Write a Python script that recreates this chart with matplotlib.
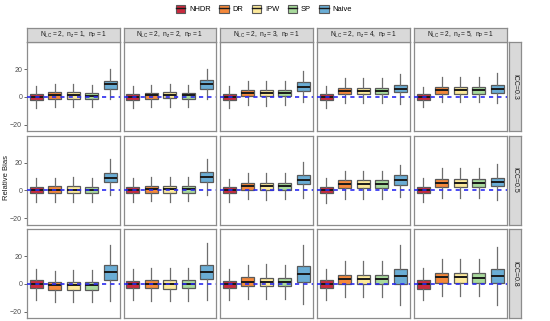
import matplotlib
matplotlib.use("Agg")
import matplotlib.pyplot as plt
from matplotlib.patches import Patch
from matplotlib.lines import Line2D

plt.rcParams['font.family'] = ['Liberation Sans', 'DejaVu Sans']

# categories / facets
methods = ["NHDR", "DR", "IPW", "SP", "Naive"]
colors = ["#C92A3E", "#F4883B", "#FCE99B", "#A8DA9C", "#6AADD5"]
nz_values = [1, 2, 3, 4, 5]
icc_values = ["0.3", "0.5", "0.8"]

# box statistics: [row ICC][col n_z][method]
q1 = [
    [[-2.2, -1.4, -1.4, -1.4, 6.0], [-2.2, -1.2, -1.0, -1.2, 6.0], [-2.2, 0.5, 0.5, 0.7, 4.6],
     [-2.2, 1.9, 1.9, 1.9, 3.4], [-2.2, 2.4, 2.4, 2.4, 2.9]],
    [[-2.2, -2.0, -2.0, -2.0, 6.1], [-2.2, -1.5, -1.5, -1.5, 6.0], [-2.2, 0.5, 0.5, 0.5, 4.4],
     [-2.2, 1.7, 1.7, 1.7, 4.1], [-2.0, 2.2, 2.2, 2.2, 2.9]],
    [[-3.1, -4.3, -4.3, -4.3, 2.9], [-3.1, -3.1, -3.4, -3.1, 3.4], [-3.1, -1.2, -1.4, -1.4, 1.5],
     [-3.1, 0.0, 0.0, 0.0, 0.0], [-3.4, 1.0, 1.0, 1.0, 0.5]],
]
med = [
    [[0.0, 1.2, 1.2, 1.0, 9.4], [0.0, 1.4, 1.4, 1.2, 9.2], [0.0, 3.1, 3.1, 3.1, 7.5],
     [0.0, 4.3, 4.3, 4.3, 6.0], [0.0, 5.0, 5.0, 5.0, 5.8]],
    [[0.0, 0.2, 0.2, 0.2, 9.3], [0.0, 1.0, 1.0, 0.8, 9.4], [0.0, 2.9, 2.9, 3.1, 7.8],
     [0.0, 4.6, 4.6, 4.6, 7.6], [0.2, 5.4, 5.4, 5.4, 6.3]],
    [[0.2, -0.7, -1.0, -0.7, 8.7], [-0.2, -0.2, -0.2, -0.2, 8.9], [0.0, 1.7, 1.7, 1.7, 7.5],
     [0.0, 3.6, 3.4, 3.4, 5.8], [0.0, 4.8, 4.8, 4.6, 6.0]],
]
q3 = [
    [[2.4, 3.4, 3.4, 3.2, 11.8], [2.2, 3.1, 3.4, 3.1, 12.0], [2.2, 5.1, 5.1, 5.1, 10.6],
     [2.2, 6.7, 6.7, 6.7, 8.9], [1.9, 7.5, 7.5, 7.5, 8.7]],
    [[2.4, 2.9, 2.9, 2.7, 12.7], [2.2, 3.2, 3.2, 3.2, 13.0], [2.2, 5.4, 5.6, 5.6, 11.2],
     [2.7, 7.3, 7.3, 7.3, 11.2], [2.4, 8.3, 8.3, 8.3, 9.3]],
    [[2.7, 1.4, 1.4, 1.4, 13.8], [2.4, 2.7, 2.7, 2.7, 14.0], [2.4, 4.8, 4.6, 4.6, 12.8],
     [2.9, 6.8, 6.8, 6.8, 10.9], [2.9, 8.0, 8.0, 8.0, 10.9]],
]
lo = [
    [[-8.0, -7.0, -7.0, -7.0, -1.7], [-8.0, -7.0, -7.0, -7.0, -1.7], [-8.0, -5.8, -6.3, -5.8, -3.9],
     [-8.0, -4.6, -4.6, -4.6, -5.0], [-7.5, -4.0, -4.0, -4.0, -4.6]],
    [[-8.3, -8.3, -8.3, -8.3, -3.2], [-8.5, -7.8, -8.3, -7.8, -3.4], [-8.3, -6.5, -7.0, -6.5, -5.4],
     [-8.8, -6.3, -6.3, -6.3, -4.9], [-8.5, -5.6, -5.6, -5.6, -6.8]],
    [[-11.6, -12.8, -13.3, -12.8, -12.1], [-11.6, -12.0, -12.3, -12.0, -11.6],
     [-11.6, -10.9, -11.1, -10.6, -14.5], [-11.6, -9.7, -9.7, -9.4, -15.2],
     [-11.6, -8.9, -8.9, -8.9, -15.5]],
]
hi = [
    [[8.2, 9.2, 9.2, 8.7, 20.0], [8.0, 8.9, 9.4, 8.9, 20.2], [8.0, 11.3, 11.3, 11.3, 18.8],
     [8.0, 13.5, 13.5, 13.5, 16.9], [7.5, 14.7, 14.7, 14.7, 17.0]],
    [[9.0, 9.0, 9.5, 9.0, 22.4], [8.8, 9.8, 9.8, 9.8, 22.4], [8.6, 12.4, 12.6, 12.6, 20.7],
     [9.3, 14.4, 14.4, 14.4, 18.5], [9.0, 16.3, 16.3, 16.3, 18.8]],
    [[10.9, 9.7, 10.4, 10.0, 28.5], [10.9, 11.4, 11.8, 11.6, 29.5], [10.9, 14.0, 14.5, 14.0, 28.5],
     [11.1, 16.9, 16.9, 16.9, 28.5], [11.4, 18.1, 18.1, 18.1, 26.6]],
]

W, H = 550, 321
fig = plt.figure(figsize=(W / 100, H / 100), dpi=100)

def fx(px):
    return px / W

def fy(py):
    return 1 - py / H

col_left = [27, 123.5, 220, 317, 414]
panel_w = 92.5
row_top = [42, 135.5, 229]
panel_h = 89
border = "#8C8C8C"

for r in range(3):
    for c in range(5):
        ax = fig.add_axes([fx(col_left[c]), fy(row_top[r] + panel_h), panel_w / W, panel_h / H])
        stats = []
        for m in range(5):
            stats.append(dict(med=med[r][c][m], q1=q1[r][c][m], q3=q3[r][c][m],
                              whislo=lo[r][c][m], whishi=hi[r][c][m], fliers=[]))
        bp = ax.bxp(stats, positions=range(1, 6), widths=0.7, patch_artist=True,
                    showcaps=False, showfliers=False,
                    boxprops=dict(edgecolor="#5A5A5A", linewidth=0.9),
                    whiskerprops=dict(color="#6E6E6E", linewidth=0.9),
                    medianprops=dict(color="#1A1A1A", linewidth=1.4))
        for patch, col in zip(bp["boxes"], colors):
            patch.set_facecolor(col)
        ax.axhline(0, color="#2B2BF0", lw=1.2, ls=(0, (2.5, 2.5)), zorder=5)
        ax.set_xlim(0.5, 5.5)
        ax.set_ylim(-24.6, 39.7)
        ax.set_xticks([])
        for s in ax.spines.values():
            s.set_color(border)
            s.set_linewidth(0.9)
        if c == 0:
            ax.set_yticks([-20, 0, 20])
            ax.tick_params(axis="y", labelsize=5, colors="#4D4D4D", length=2, width=0.6, pad=1.5)
        else:
            ax.set_yticks([])

        # strips
        if r == 0:
            sx = fig.add_axes([fx(col_left[c]), fy(41.5), panel_w / W, 14 / H])
            sx.set_facecolor("#D9D9D9")
            sx.set_xticks([]); sx.set_yticks([])
            for s in sx.spines.values():
                s.set_color(border); s.set_linewidth(0.9)
            sx.text(0.5, 0.5, r"$\mathregular{N_{LC}=2,\ n_{z}=%d,\ n_{P}=1}$" % nz_values[c],
                    ha="center", va="center", fontsize=4.8, color="#1A1A1A", transform=sx.transAxes)
        if c == 4:
            rx = fig.add_axes([fx(508.5), fy(row_top[r] + panel_h), 12 / W, panel_h / H])
            rx.set_facecolor("#D9D9D9")
            rx.set_xticks([]); rx.set_yticks([])
            for s in rx.spines.values():
                s.set_color(border); s.set_linewidth(0.9)
            rx.text(0.5, 0.5, "ICC=" + icc_values[r], rotation=-90, ha="center", va="center",
                    fontsize=5, color="#1A1A1A", transform=rx.transAxes)

fig.text(fx(7), fy(178), "Relative Bias", rotation=90, ha="center", va="center",
         fontsize=5.5, color="#1A1A1A")

handles = []
for col in colors:
    handles.append((Patch(facecolor=col, edgecolor="#5A5A5A", linewidth=0.8),
                    Line2D([], [], color="#1A1A1A", lw=1.0)))
fig.legend(handles, methods, loc="center", bbox_to_anchor=(fx(264), fy(9)), ncol=5,
           frameon=False, fontsize=5.4, handlelength=1.3, handleheight=1.2,
           handletextpad=0.5, columnspacing=1.1)

plt.savefig("out.png", dpi=100)
